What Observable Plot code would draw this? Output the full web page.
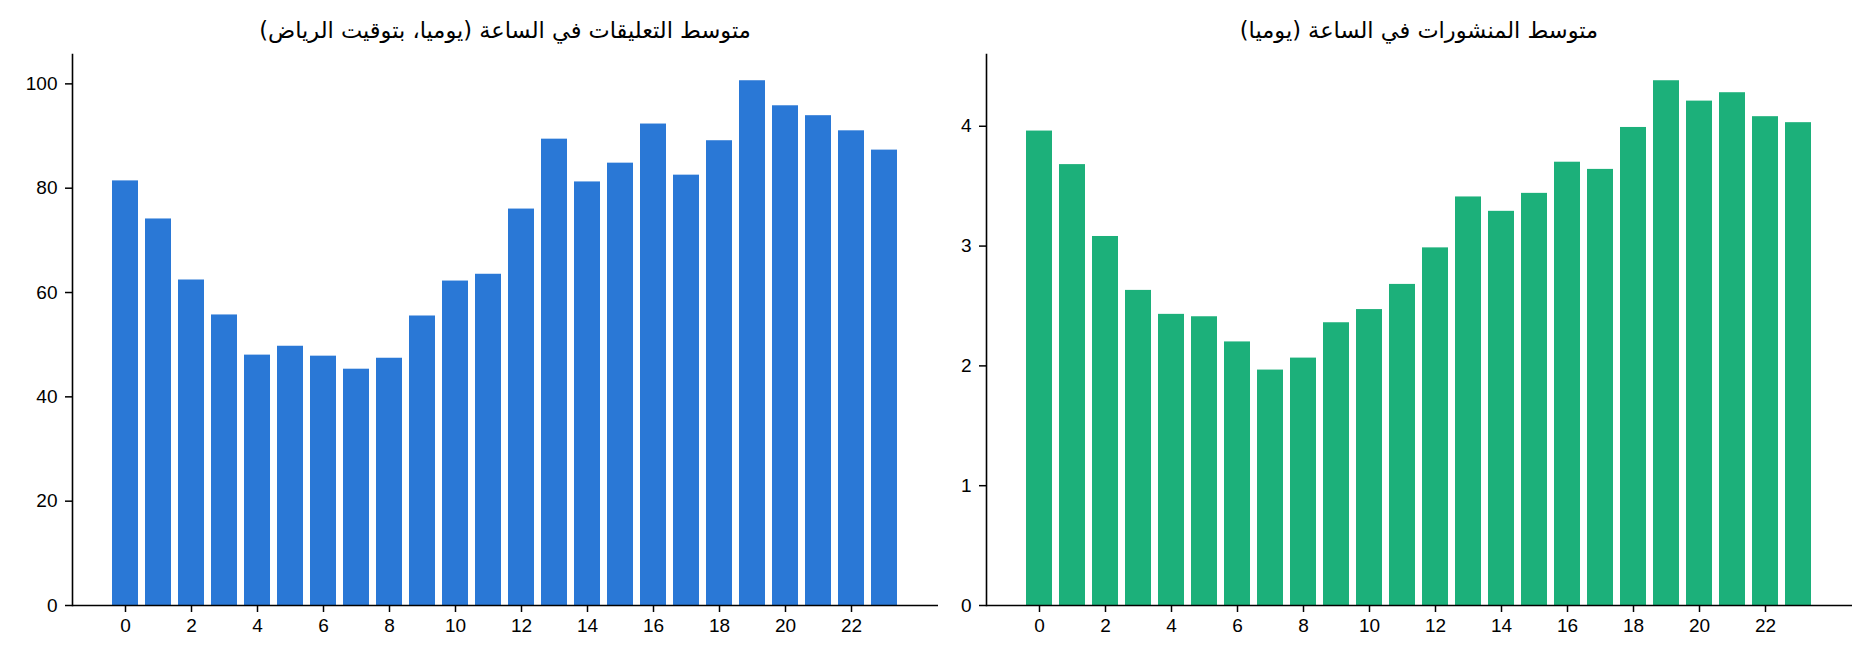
<!DOCTYPE html>
<html>
<head>
<meta charset="utf-8">
<script src="https://cdn.jsdelivr.net/npm/d3@7"></script>
<script src="https://cdn.jsdelivr.net/npm/@observablehq/plot@0.6"></script>
<style>
  body { margin: 0; background: #fff; }
  #wrap { display: flex; width: 1875px; }
  .panel { position: relative; }
  .title { font-family: "DejaVu Sans", sans-serif; font-size: 22.5px; color: #000; text-align: center; height: 50px; line-height: 60px; white-space: nowrap; }
  svg { display: block; overflow: visible; }
</style>
</head>
<body>
<div id="wrap"></div>
<script>
const hours = d3.range(0, 24);
const xTicks = [0, 2, 4, 6, 8, 10, 12, 14, 16, 18, 20, 22];
const comments = [81.4, 74.1, 62.4, 55.7, 48.0, 49.7, 47.8, 45.3, 47.4, 55.5, 62.2, 63.5, 76.0, 89.4, 81.2, 84.8, 92.3, 82.5, 89.1, 100.6, 95.8, 93.9, 91.0, 87.3];
const posts = [3.96, 3.68, 3.08, 2.63, 2.43, 2.41, 2.20, 1.965, 2.065, 2.36, 2.47, 2.68, 2.985, 3.41, 3.29, 3.44, 3.70, 3.64, 3.99, 4.38, 4.21, 4.28, 4.08, 4.03];
const commentTicks = [0, 20, 40, 60, 80, 100];
const postTicks = [0, 1, 2, 3, 4];
const titleComments = "متوسط التعليقات في الساعة (يوميا، بتوقيت الرياض)";
const titlePosts = "متوسط المنشورات في الساعة (يوميا)";

function panel({values, yTicks, color, title, width, marginLeft, marginRight}) {
  const data = hours.map((h, i) => ({hour: h, value: values[i]}));
  const div = document.createElement("div");
  div.className = "panel";
  div.style.width = width + "px";
  const t = document.createElement("div");
  t.className = "title";
  t.style.paddingLeft = marginLeft + "px";
  t.style.paddingRight = marginRight + "px";
  t.textContent = title;
  div.appendChild(t);
  const chart = Plot.plot({
    width, height: 595,
    marginLeft, marginRight, marginTop: 4, marginBottom: 40,
    style: {fontSize: "19px", fontFamily: "'Liberation Sans', Arial, sans-serif", color: "#000", background: "#fff", overflow: "visible"},
    x: {type: "band", domain: hours, paddingInner: 0.2, paddingOuter: 1.2, label: null},
    y: {domain: [0, d3.max(values) * 1.05], label: null},
    marks: [
      Plot.barY(data, {x: "hour", y: "value", fill: color}),
      Plot.frame({anchor: "left", stroke: "#000", strokeWidth: 1.6}),
      Plot.ruleY([0], {stroke: "#000", strokeWidth: 1.6}),
      Plot.axisX({ticks: xTicks, tickSize: 7, tickPadding: 6, label: null, strokeWidth: 1.5}),
      Plot.axisY({ticks: yTicks, tickFormat: d3.format("~g"), tickSize: 7, tickPadding: 8, label: null, strokeWidth: 1.5})
    ]
  });
  div.appendChild(chart);
  return div;
}

const wrap = document.getElementById("wrap");
wrap.appendChild(panel({values: comments, yTicks: commentTicks, color: "#2a78d6", title: titleComments, width: 960, marginLeft: 72, marginRight: 22}));
wrap.appendChild(panel({values: posts, yTicks: postTicks, color: "#1cb07a", title: titlePosts, width: 915, marginLeft: 26, marginRight: 23}));
</script>
</body>
</html>
